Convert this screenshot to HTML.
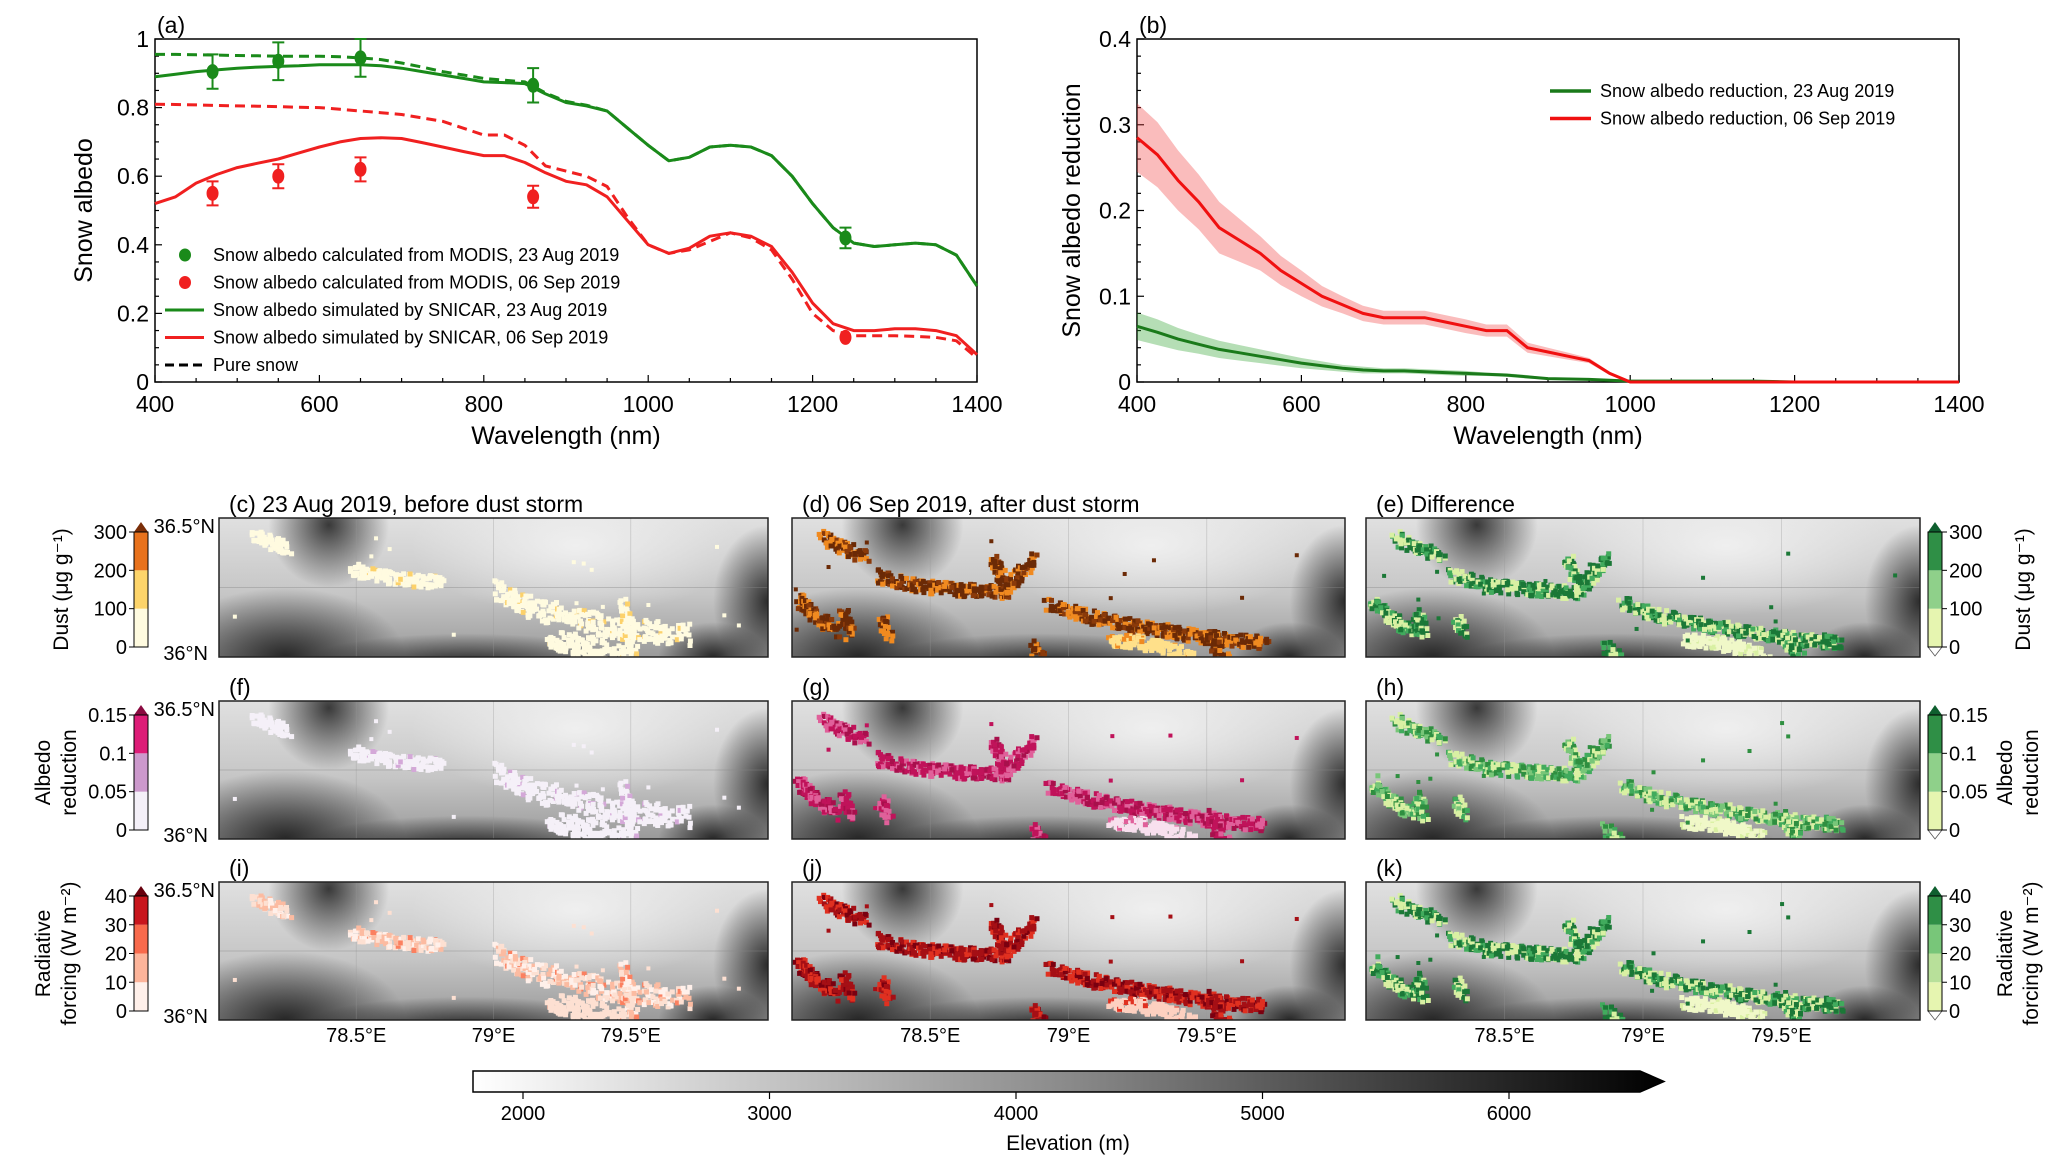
<!DOCTYPE html>
<html><head><meta charset="utf-8">
<style>
html,body{margin:0;padding:0;background:#fff;}
svg{display:block;font-family:"Liberation Sans",Arial,sans-serif;}
</style></head>
<body>
<svg id="fig" width="2067" height="1164" viewBox="0 0 2067 1164" xmlns="http://www.w3.org/2000/svg">
<defs>
  <linearGradient id="elevbar" x1="0" x2="1" y1="0" y2="0">
    <stop offset="0" stop-color="#ffffff"/><stop offset="0.5" stop-color="#8a8a8a"/><stop offset="1" stop-color="#000"/>
  </linearGradient>
  <linearGradient id="mapbase" x1="0" x2="0" y1="0" y2="1">
    <stop offset="0" stop-color="#e0e0e0"/><stop offset="0.55" stop-color="#c6c6c6"/><stop offset="1" stop-color="#9a9a9a"/>
  </linearGradient>
  <radialGradient id="darkTL" cx="0.5" cy="0.5" r="0.5">
    <stop offset="0" stop-color="#303030" stop-opacity="0.95"/><stop offset="1" stop-color="#303030" stop-opacity="0"/>
  </radialGradient>
  <radialGradient id="darkBL" cx="0.5" cy="0.5" r="0.5">
    <stop offset="0" stop-color="#1a1a1a" stop-opacity="0.9"/><stop offset="1" stop-color="#1a1a1a" stop-opacity="0"/>
  </radialGradient>
  <radialGradient id="lightC" cx="0.5" cy="0.5" r="0.5">
    <stop offset="0" stop-color="#f2f2f2" stop-opacity="0.9"/><stop offset="1" stop-color="#f2f2f2" stop-opacity="0"/>
  </radialGradient>
</defs>
<g id="root"></g>
</svg>
<script>
// ===== Panel (a) data =====
const aWl = [400,425,450,475,500,525,550,575,600,625,650,675,700,725,750,775,800,825,850,875,900,925,950,975,1000,1025,1050,1075,1100,1125,1150,1175,1200,1225,1250,1275,1300,1325,1350,1375,1400];
const aGreenSim = [0.89,0.897,0.905,0.91,0.915,0.918,0.92,0.922,0.925,0.925,0.925,0.922,0.915,0.905,0.895,0.885,0.875,0.873,0.87,0.84,0.815,0.805,0.79,0.74,0.69,0.645,0.655,0.685,0.69,0.685,0.66,0.6,0.52,0.45,0.405,0.395,0.4,0.405,0.4,0.37,0.28];
const aGreenPure = [0.955,0.955,0.954,0.953,0.952,0.951,0.95,0.95,0.95,0.948,0.945,0.94,0.93,0.918,0.905,0.895,0.885,0.88,0.875,0.843,0.818,0.807,0.79,0.74,0.69,0.645,0.655,0.685,0.69,0.685,0.66,0.6,0.52,0.45,0.405,0.395,0.4,0.405,0.4,0.37,0.28];
const aRedSim = [0.52,0.54,0.58,0.605,0.625,0.638,0.65,0.668,0.685,0.7,0.71,0.712,0.71,0.698,0.685,0.672,0.66,0.66,0.64,0.61,0.585,0.575,0.54,0.47,0.4,0.375,0.39,0.425,0.435,0.425,0.395,0.32,0.23,0.17,0.15,0.15,0.155,0.155,0.15,0.135,0.08];
const aRedPure = [0.81,0.809,0.808,0.806,0.805,0.804,0.803,0.801,0.8,0.795,0.79,0.785,0.78,0.77,0.76,0.74,0.72,0.72,0.69,0.63,0.615,0.6,0.57,0.48,0.4,0.375,0.385,0.41,0.435,0.42,0.385,0.3,0.2,0.15,0.135,0.135,0.135,0.133,0.13,0.12,0.07];
const aObsWl = [470,550,650,860,1240];
const aObsGreen = [0.905,0.935,0.945,0.865,0.42];
const aObsGreenErr = [0.05,0.055,0.055,0.05,0.03];
const aObsRed = [0.55,0.60,0.62,0.54,0.13];
const aObsRedErr = [0.035,0.035,0.035,0.032,0.0];
const aXTicks = [400,600,800,1000,1200,1400];
const aYTicks = [0,0.2,0.4,0.6,0.8,1];
const aYTickLabels = ["0","0.2","0.4","0.6","0.8","1"];

// ===== Panel (b) data =====
const bWl = [400,425,450,475,500,525,550,575,600,625,650,675,700,725,750,775,800,825,850,875,900,925,950,975,1000,1050,1100,1150,1200,1300,1400];
const bRed = [0.285,0.265,0.235,0.21,0.18,0.165,0.15,0.13,0.115,0.1,0.09,0.08,0.075,0.075,0.075,0.07,0.065,0.06,0.06,0.04,0.035,0.03,0.025,0.01,0,0,0,0,0,0,0];
const bRedBand = [0.04,0.038,0.035,0.032,0.03,0.025,0.02,0.017,0.015,0.012,0.01,0.009,0.008,0.008,0.008,0.008,0.008,0.007,0.007,0.006,0.005,0.004,0.003,0.002,0,0,0,0,0,0,0];
const bGreen = [0.065,0.058,0.05,0.044,0.038,0.034,0.03,0.026,0.022,0.019,0.016,0.014,0.013,0.013,0.012,0.011,0.01,0.009,0.008,0.006,0.004,0.0035,0.003,0.002,0.001,0.001,0.001,0.001,0,0,0];
const bGreenBand = [0.016,0.015,0.013,0.011,0.01,0.009,0.008,0.007,0.006,0.005,0.004,0.004,0.003,0.003,0.003,0.003,0.003,0.002,0.002,0.002,0.001,0.001,0.001,0.001,0,0,0,0,0,0,0];
const bYTicks = [0,0.1,0.2,0.3,0.4];
const bYTickLabels = ["0","0.1","0.2","0.3","0.4"];

// ===== Elevation colorbar =====
const elevTicks = [2000,3000,4000,5000,6000];

const NS = "http://www.w3.org/2000/svg";
const root = document.getElementById('root');
function el(tag, attrs, parent, text){
  const e = document.createElementNS(NS, tag);
  for (const k in attrs) e.setAttribute(k, attrs[k]);
  if (text !== undefined) e.textContent = text;
  (parent||root).appendChild(e);
  return e;
}

function lineChart(opt){
  const g = el('g', {});
  
  
  const X = v => opt.x0 + (v - opt.xmin) / (opt.xmax - opt.xmin) * (opt.x1 - opt.x0);
  const Y = v => opt.y0 - (v - opt.ymin) / (opt.ymax - opt.ymin) * (opt.y0 - opt.y1);
  const fr = el('rect', {x:opt.x0, y:opt.y1, width:opt.x1-opt.x0, height:opt.y0-opt.y1, fill:'none', stroke:'#000', 'stroke-width':1.5}, g);
  
  
  const xt = el('g', {}, g);
  
  
  for (let v = opt.xmin; v <= opt.xmax; v += 50) {
    const major = opt.xTicks.includes(v);
    el('line', {x1:X(v), x2:X(v), y1:opt.y0, y2:opt.y0-(major?7:4), stroke:'#000','stroke-width':1.2}, xt);
  }
  opt.xTicks.forEach(v => {
    const t = el('text', {x:X(v), y:opt.y0+30, 'font-size':23, 'text-anchor':'middle'}, xt, String(v));
    
    
  });
  const xl = el('text', {x:(opt.x0+opt.x1)/2, y:opt.y0+62, 'font-size':25, 'text-anchor':'middle'}, g, 'Wavelength (nm)');
  
  
  const yt = el('g', {}, g);
  
  
  const step = (opt.ymax-opt.ymin)/ (opt.yMinorCount);
  for (let i = 0; i <= opt.yMinorCount; i++) {
    const v = opt.ymin + i*step;
    const major = (i % opt.yMinorPer) === 0;
    el('line', {x1:opt.x0, x2:opt.x0+(major?7:4), y1:Y(v), y2:Y(v), stroke:'#000','stroke-width':1.2}, yt);
  }
  opt.yTicks.forEach((v,i) => {
    const t = el('text', {x:opt.x0-6, y:Y(v)+8, 'font-size':23, 'text-anchor':'end'}, yt, opt.yTickLabels[i]);
    
    
  });
  const yl = el('text', {x:0, y:0, 'font-size':25, 'text-anchor':'middle', transform:`translate(${opt.yTitleX},${(opt.y0+opt.y1)/2}) rotate(-90)`}, g, opt.yTitle);
  
  
  const pl = el('text', {x:opt.x0+2, y:opt.y1-6, 'font-size':23}, g, opt.label);
  
  
  return {g, X, Y};
}
function pathFrom(xs, ys, X, Y){
  return xs.map((v,i) => (i?'L':'M') + X(v).toFixed(1) + ',' + Y(ys[i]).toFixed(1)).join(' ');
}

// ---------- Panel (a) ----------
(function(){
  const c = lineChart({name:'panel-a-albedo-chart', x0:155, x1:977, y0:382, y1:39, xmin:400, xmax:1400, ymin:0, ymax:1,
    xTicks:aXTicks, yTicks:aYTicks, yTickLabels:aYTickLabels, yMinorCount:20, yMinorPer:4, yTitle:'Snow albedo', yTitleX:92, label:'(a)'});
  const {g, X, Y} = c;
  const s1 = el('path', {d:pathFrom(aWl,aGreenPure,X,Y), fill:'none', stroke:'#1a8a1a', 'stroke-width':3, 'stroke-dasharray':'10,6', 'stroke-linejoin':'round'}, g);
  
  
  const s2 = el('path', {d:pathFrom(aWl,aRedPure,X,Y), fill:'none', stroke:'#f02020', 'stroke-width':3, 'stroke-dasharray':'10,6', 'stroke-linejoin':'round'}, g);
  
  
  const s3 = el('path', {d:pathFrom(aWl,aGreenSim,X,Y), fill:'none', stroke:'#1a8a1a', 'stroke-width':3, 'stroke-linejoin':'round'}, g);
  
  
  const s4 = el('path', {d:pathFrom(aWl,aRedSim,X,Y), fill:'none', stroke:'#f02020', 'stroke-width':3, 'stroke-linejoin':'round'}, g);
  
  
  function obs(vals, errs, col, nm){
    aObsWl.forEach((w,i) => {
      const x = X(w), y = Y(vals[i]);
      if (errs[i] > 0) {
        const eb = el('path', {d:`M${x},${Y(vals[i]-errs[i])} L${x},${Y(vals[i]+errs[i])} M${x-6},${Y(vals[i]-errs[i])} L${x+6},${Y(vals[i]-errs[i])} M${x-6},${Y(vals[i]+errs[i])} L${x+6},${Y(vals[i]+errs[i])}`, stroke:col, 'stroke-width':2, fill:'none'}, g);
        
        
      }
      const p = el('ellipse', {cx:x, cy:y, rx:6, ry:7.5, fill:col}, g);
      
      
    });
  }
  obs(aObsGreen, aObsGreenErr, '#1a8a1a', 'modis-green');
  obs(aObsRed, aObsRedErr, '#f02020', 'modis-red');
  const lg = el('g', {}, g);
  
  
  const items = [
    ['dot','#1a8a1a','Snow albedo calculated from MODIS, 23 Aug 2019'],
    ['dot','#f02020','Snow albedo calculated from MODIS, 06 Sep 2019'],
    ['line','#1a8a1a','Snow albedo simulated by SNICAR, 23 Aug 2019'],
    ['line','#f02020','Snow albedo simulated by SNICAR, 06 Sep 2019'],
    ['dash','#000','Pure snow']];
  items.forEach((it,i) => {
    const y = 255 + i*27.5;
    const e = el('g', {}, lg);
    
    
    if (it[0]==='dot') el('ellipse', {cx:185, cy:y, rx:6, ry:6.5, fill:it[1]}, e);
    else el('line', {x1:165, x2:204, y1:y, y2:y, stroke:it[1], 'stroke-width':3, 'stroke-dasharray': it[0]==='dash'?'9,5':'none'}, e);
    el('text', {x:213, y:y+6, 'font-size':18}, e, it[2]);
  });
})();

// ---------- Panel (b) ----------
(function(){
  const c = lineChart({name:'panel-b-albedo-reduction-chart', x0:1137, x1:1959, y0:382, y1:39, xmin:400, xmax:1400, ymin:0, ymax:0.4,
    xTicks:aXTicks, yTicks:bYTicks, yTickLabels:bYTickLabels, yMinorCount:20, yMinorPer:5, yTitle:'Snow albedo reduction', yTitleX:1080, label:'(b)'});
  const {g, X, Y} = c;
  function band(vals, bnd, col, nm){
    const up = bWl.map((w,i) => X(w).toFixed(1)+','+Y(vals[i]+bnd[i]).toFixed(1));
    const dn = bWl.map((w,i) => X(w).toFixed(1)+','+Y(Math.max(0,vals[i]-bnd[i])).toFixed(1)).reverse();
    const p = el('polygon', {points: up.concat(dn).join(' '), fill:col, 'fill-opacity':0.35}, g);
    
    
  }
  band(bGreen, bGreenBand, '#2ca02c', 'band-green-uncertainty');
  band(bRed, bRedBand, '#f04040', 'band-red-uncertainty');
  const l1 = el('path', {d:pathFrom(bWl,bGreen,X,Y), fill:'none', stroke:'#1a7a1a', 'stroke-width':3}, g);
  
  
  const l2 = el('path', {d:pathFrom(bWl,bRed,X,Y), fill:'none', stroke:'#f01010', 'stroke-width':3}, g);
  
  
  const lg = el('g', {}, g);
  
  
  [['#1a7a1a','Snow albedo reduction, 23 Aug 2019'],['#f01010','Snow albedo reduction, 06 Sep 2019']].forEach((it,i) => {
    const y = 91 + i*27.5;
    const e = el('g', {}, lg);
    
    
    el('line', {x1:1550, x2:1591, y1:y, y2:y, stroke:it[0], 'stroke-width':3.5}, e);
    el('text', {x:1600, y:y+6, 'font-size':18}, e, it[1]);
  });
})();

// ---------- Maps ----------
const mapCols = [{x:219,w:549},{x:792,w:553},{x:1366,w:554}];
const mapRows = [{y:518,h:139},{y:701,h:138},{y:882,h:138}];
const segAfter = [
  [[0.05,0.12],[0.09,0.2],[0.13,0.26]],
  [[0.15,0.4],[0.22,0.47],[0.3,0.5],[0.38,0.52],[0.4,0.42],[0.43,0.28]],
  [[0.36,0.28],[0.38,0.45]],
  [[0.46,0.6],[0.52,0.68],[0.6,0.75],[0.68,0.8],[0.76,0.85],[0.85,0.88]],
  [[0.57,0.86],[0.63,0.88],[0.68,0.93],[0.72,1.0]],
  [[0.75,0.82],[0.77,0.95],[0.78,1.0]],
  [[0.01,0.57],[0.04,0.7],[0.08,0.8]],
  [[0.09,0.68],[0.1,0.82]],[[0.16,0.72],[0.17,0.82]],
  [[0.43,0.9],[0.45,1.0]]
];
const segBefore = [
  [[0.06,0.12],[0.12,0.2]],
  [[0.24,0.35],[0.32,0.42],[0.4,0.45]],
  [[0.5,0.5],[0.56,0.62],[0.64,0.7],[0.72,0.78],[0.85,0.82]],
  [[0.6,0.86],[0.68,0.92],[0.74,1.0]],
  [[0.73,0.62],[0.75,0.9]]
];
const palettes = [
  [['#fffbe0','#fffbe0','#fffbe0','#fcd16a'],['#6b2a06','#6b2a06','#8a3a0a','#f08a20','#ffe08a'],['#1b7837','#1b7837','#41ab5d','#d9f0a3','#f0f8c8']],
  [['#f5f0f8','#f5f0f8','#f5f0f8','#d4a8d8'],['#c0135a','#c0135a','#a8104c','#e0609a','#f8e0ee'],['#2f8f40','#41ab5d','#78c679','#d9f0a3','#f0f8c8']],
  [['#fde0d2','#fcbba1','#fff0ea','#fb8060'],['#a50f15','#a50f15','#7a0010','#e03020','#fdd0c0'],['#1b7837','#1b7837','#41ab5d','#d9f0a3','#f0f8c8']]
];
let seed = 12345;
function rnd(){ seed = (seed*1103515245 + 12345) % 2147483648; return seed/2147483648; }
function drawMap(r, c){
  const M = mapCols[c], R = mapRows[r];
  const g = el('g', {});
  
  
  const cid = 'clip'+r+c;
  const cp = el('clipPath', {id:cid}, g);
  el('rect', {x:M.x, y:R.y, width:M.w, height:R.h}, cp);
  const inner = el('g', {'clip-path':`url(#${cid})`}, g);
  el('rect', {x:M.x, y:R.y, width:M.w, height:R.h, fill:'url(#mapbase)'}, inner);
  el('ellipse', {cx:M.x+0.65*M.w, cy:R.y+0.2*R.h, rx:0.3*M.w, ry:0.5*R.h, fill:'url(#lightC)'}, inner);
  el('ellipse', {cx:M.x+0.2*M.w, cy:R.y+0.05*R.h, rx:0.11*M.w, ry:0.45*R.h, fill:'url(#darkTL)'}, inner);
  el('ellipse', {cx:M.x+0.12*M.w, cy:R.y+1.0*R.h, rx:0.22*M.w, ry:0.5*R.h, fill:'url(#darkBL)'}, inner);
  el('ellipse', {cx:M.x+0.45*M.w, cy:R.y+1.05*R.h, rx:0.3*M.w, ry:0.22*R.h, fill:'url(#darkBL)'}, inner);
  el('ellipse', {cx:M.x+1.0*M.w, cy:R.y+0.6*R.h, rx:0.1*M.w, ry:0.55*R.h, fill:'url(#darkBL)'}, inner);
  el('ellipse', {cx:M.x+0.9*M.w, cy:R.y+1.0*R.h, rx:0.1*M.w, ry:0.25*R.h, fill:'url(#darkBL)'}, inner);
  [0.25,0.5,0.75].forEach(f => el('line', {x1:M.x+f*M.w, x2:M.x+f*M.w, y1:R.y, y2:R.y+R.h, stroke:'#999', 'stroke-width':0.8, 'stroke-opacity':0.4}, inner));
  el('line', {x1:M.x, x2:M.x+M.w, y1:R.y+0.5*R.h, y2:R.y+0.5*R.h, stroke:'#888', 'stroke-width':1, 'stroke-opacity':0.4}, inner);
  const segs = c===0 ? segBefore : segAfter;
  const pal = c===0 ? palettes[r][0] : (c===1 ? palettes[r][1] : palettes[r][2]);
  const big = (c===0);
  seed = 777 + c*31;
  const px = el('g', {}, inner);
  
  
  segs.forEach((s, si) => {
    const wide = (big && si>=2) ? 22 : 13;
    for (let k = 0; k < s.length-1; k++) {
      const [ax,ay] = s[k], [bx,by] = s[k+1];
      const len = Math.hypot((bx-ax)*M.w, (by-ay)*R.h);
      const n = Math.ceil(len/2);
      for (let i = 0; i <= n; i++) {
        const t = i/n;
        for (let j = 0; j < 3; j++) {
          const cx = M.x + (ax + (bx-ax)*t)*M.w + (rnd()-0.5)*10;
          const cy = R.y + (ay + (by-ay)*t)*R.h + (rnd()-0.5)*wide;
          let col;
          if (big && si===3) col = pal[0];
          else if (si===4 && c>0) col = pal[pal.length-1];
          else col = pal[Math.floor(rnd()*(pal.length-1))];
          if (c>0 && rnd()<0.12) col = pal[pal.length-2];
          if (big && rnd()<0.05) col = pal[pal.length-1];
          el('rect', {x:cx.toFixed(1), y:cy.toFixed(1), width:5, height:5, fill:col}, px);
        }
      }
    }
  });
  for (let i = 0; i < 14; i++) {
    const fx = rnd(), fy = 0.1 + rnd()*0.8;
    el('rect', {x:M.x+fx*M.w, y:R.y+fy*R.h, width:4, height:4, fill:pal[0]}, px);
  }
  el('rect', {x:M.x, y:R.y, width:M.w, height:R.h, fill:'none', stroke:'#222', 'stroke-width':1.5}, g);
}
for (let r = 0; r < 3; r++) for (let c = 0; c < 3; c++) drawMap(r, c);

const titles = [['(c)  23 Aug 2019, before dust storm','(d)  06 Sep 2019, after dust storm','(e)  Difference'],['(f)','(g)','(h)'],['(i)','(j)','(k)']];
titles.forEach((row,r) => row.forEach((t,c) => {
  const e = el('text', {x:mapCols[c].x+10, y:mapRows[r].y-6, 'font-size':23}, root, t);
  
  
}));
mapRows.forEach(R => {
  const a = el('text', {x:215, y:R.y+15, 'font-size':20, 'text-anchor':'end'}, root, '36.5°N');
  
  
  const b = el('text', {x:208, y:R.y+R.h+3, 'font-size':20, 'text-anchor':'end'}, root, '36°N');
  
  
});
const lonLabels = ['78.5°E','79°E','79.5°E'];
mapCols.forEach(M => lonLabels.forEach((t,i) => {
  const e = el('text', {x:M.x+(0.25+0.25*i)*M.w, y:1042, 'font-size':20, 'text-anchor':'middle'}, root, t);
  
  
}));

// ---------- Discrete colorbars ----------
const leftCols = [['#fffbe0','#fdd46a','#e8721c','#7a2e08'],['#f4f0f8','#cc99cc','#dd1c77','#8a0a40'],['#fff0ea','#fcb49a','#f86a4c','#c8161d','#67000d']];
const leftTickLabels = [['0','100','200','300'],['0','0.05','0.1','0.15'],['0','10','20','30','40']];
const rightCols = [['#e6f5b0','#8fd08a','#2f8f46','#0f5f2f'],['#e6f5b0','#8fd08a','#2f8f46','#0f5f2f'],['#e6f5b0','#b8e09a','#78c679','#2f8f46','#0f5f2f']];
const leftTitles = [['Dust (μg g⁻¹)'],['Albedo','reduction'],['Radiative','forcing (W m⁻²)']];
function colorbar(r, x, right){
  const R = mapRows[r];
  const top = R.y + 14, bot = R.y + 129;
  const cols = right ? rightCols[r] : leftCols[r];
  const labs = leftTickLabels[r];
  const n = labs.length - 1;
  const w = 14;
  const g = el('g', {});
  
  
  const Yc = i => bot - i*(bot-top)/n;
  for (let i = 0; i < n; i++) el('rect', {x:x, y:Yc(i+1), width:w, height:Yc(i)-Yc(i+1), fill:cols[i]}, g);
  el('polygon', {points:`${x},${top} ${x+w/2},${top-10} ${x+w},${top}`, fill:cols[cols.length-1]}, g);
  if (right) el('polygon', {points:`${x},${bot} ${x+w/2},${bot+9} ${x+w},${bot}`, fill:'#fff', stroke:'#555','stroke-width':0.8}, g);
  el('rect', {x:x, y:top, width:w, height:bot-top, fill:'none', stroke:'#000','stroke-width':1}, g);
  labs.forEach((t,i) => {
    const y = Yc(i);
    if (right) {
      el('line', {x1:x+w, x2:x+w+5, y1:y, y2:y, stroke:'#000'}, g);
      el('text', {x:x+w+7, y:y+7, 'font-size':20}, g, t);
    } else {
      el('line', {x1:x-5, x2:x, y1:y, y2:y, stroke:'#000'}, g);
      el('text', {x:x-7, y:y+7, 'font-size':20, 'text-anchor':'end'}, g, t);
    }
  });
  const lines = leftTitles[r];
  const cy = (top+bot)/2;
  const tx = right ? 2012 : (lines.length===1 ? 68 : 50);
  lines.forEach((t,i) => {
    const e = el('text', {x:0, y:0, 'font-size':21, 'text-anchor':'middle', transform:`translate(${right ? (lines.length===1?2030:tx+i*26) : tx+i*26},${cy}) rotate(-90)`}, g, t);
    
    
  });
}
for (let r = 0; r < 3; r++) { colorbar(r, 134, false); colorbar(r, 1928, true); }

// ---------- Elevation colorbar ----------
(function(){
  const g = el('g', {});
  
  
  const x0 = 473, x1 = 1640, y0 = 1071, y1 = 1092;
  const E = v => 523 + (v - 2000) * 0.2465;
  el('polygon', {points:`${x0},${y0} ${x1},${y0} ${x1+24},${(y0+y1)/2} ${x1},${y1} ${x0},${y1}`, fill:'url(#elevbar)', stroke:'#000', 'stroke-width':1.5}, g);
  elevTicks.forEach(v => {
    el('line', {x1:E(v), x2:E(v), y1:y1, y2:y1+7, stroke:'#000', 'stroke-width':1.2}, g);
    const t = el('text', {x:E(v), y:1120, 'font-size':20, 'text-anchor':'middle'}, g, String(v));
    
    
  });
  const t = el('text', {x:1068, y:1150, 'font-size':21, 'text-anchor':'middle'}, g, 'Elevation (m)');
  
  
})();
</script>
</body></html>
